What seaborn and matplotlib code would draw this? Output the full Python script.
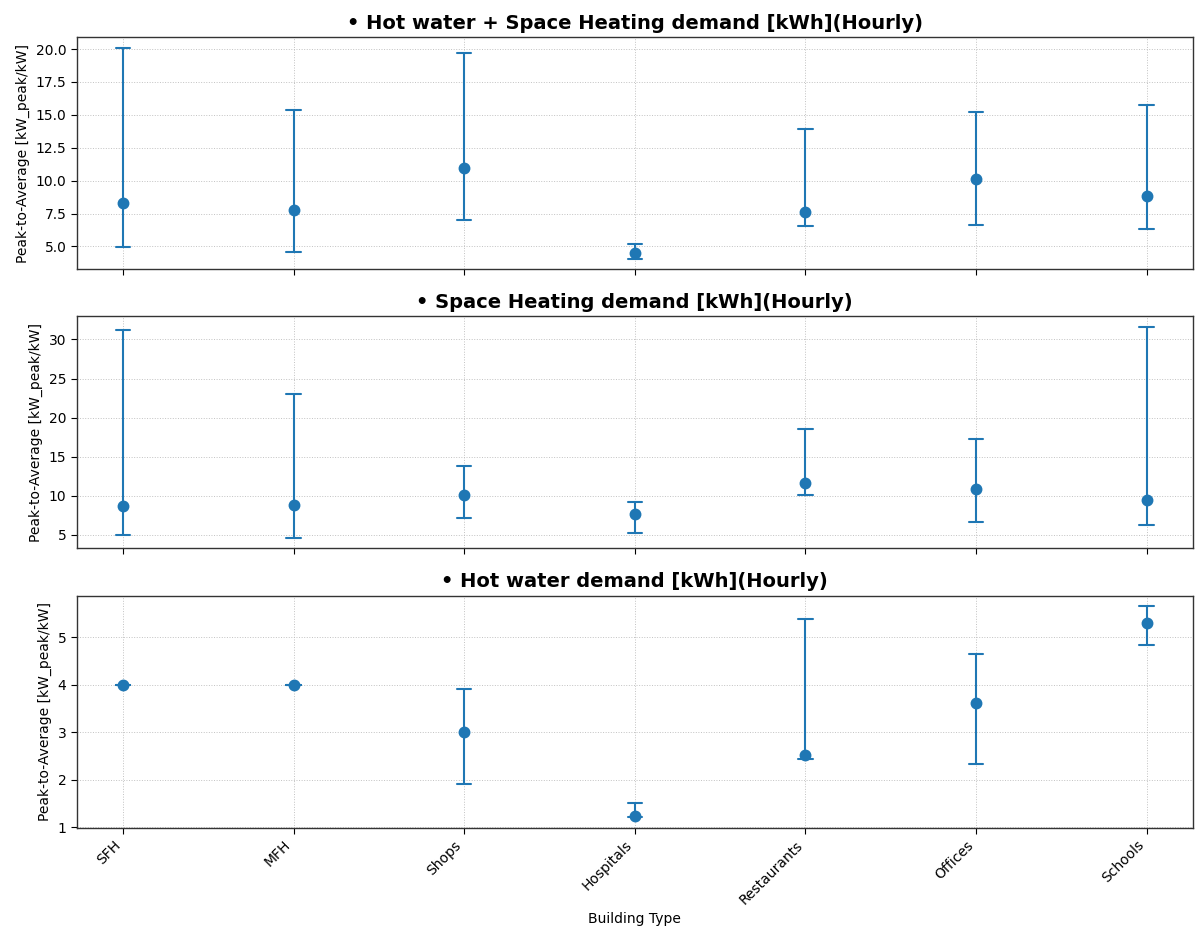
import pandas as pd
import matplotlib
matplotlib.use("Agg")
import matplotlib.pyplot as plt
import seaborn as sns

buildings = ["SFH", "MFH", "Shops", "Hospitals", "Restaurants", "Offices", "Schools"]

titles = [
    "• Hot water + Space Heating demand [kWh](Hourly)",
    "• Space Heating demand [kWh](Hourly)",
    "• Hot water demand [kWh](Hourly)",
]

# point (central value), lower and upper whisker per building type
combined_mid = [8.31, 7.80, 11.00, 4.49, 7.65, 10.15, 8.86]
combined_low = [4.95, 4.57, 7.05, 4.07, 6.54, 6.64, 6.31]
combined_high = [20.10, 15.38, 19.72, 5.20, 13.89, 15.25, 15.78]

heating_mid = [8.75, 8.87, 10.14, 7.64, 11.66, 10.86, 9.50]
heating_low = [5.00, 4.60, 7.10, 5.28, 10.14, 6.63, 6.30]
heating_high = [31.22, 23.07, 13.81, 9.16, 18.59, 17.20, 31.60]

water_mid = [4.00, 4.00, 3.00, 1.24, 2.53, 3.61, 5.31]
water_low = [4.00, 4.00, 1.91, 1.21, 2.43, 2.33, 4.84]
water_high = [4.00, 4.00, 3.92, 1.50, 5.38, 4.65, 5.66]


def build_frame(low, mid, high):
    rows = []
    for b, lo, m, hi in zip(buildings, low, mid, high):
        for v in (lo, m, hi):
            rows.append({"Building Type": b, "value": v})
    return pd.DataFrame(rows)


panels = [
    build_frame(combined_low, combined_mid, combined_high),
    build_frame(heating_low, heating_mid, heating_high),
    build_frame(water_low, water_mid, water_high),
]

sns.set_style("white")
plt.rcParams["font.family"] = ["DejaVu Sans"]
plt.rcParams["text.color"] = "black"
plt.rcParams["axes.labelcolor"] = "black"
plt.rcParams["xtick.color"] = "black"
plt.rcParams["ytick.color"] = "black"

fig, axes = plt.subplots(3, 1, figsize=(11.95, 9.3), dpi=100, sharex=True)

for ax, df, title in zip(axes, panels, titles):
    sns.pointplot(
        data=df, x="Building Type", y="value", order=buildings,
        estimator="median", errorbar=lambda v: (v.min(), v.max()),
        linestyle="none", marker="o", markersize=6.5,
        capsize=0.085, err_kws={"linewidth": 1.5},
        color="#1f77b4", ax=ax,
    )
    ax.set_title(title, fontsize=14, fontweight="bold", color="black")
    ax.set_ylabel("Peak-to-Average [kW_peak/kW]", fontsize=10)
    ax.set_xlabel("")
    ax.set_xlim(-0.27, len(buildings) - 1 + 0.27)
    ax.grid(True, linestyle=":", linewidth=0.7, color="#bbbbbb", alpha=0.9)
    ax.tick_params(axis="both", labelsize=10, length=4, bottom=True, left=True,
                   colors="black")
    for s in ax.spines.values():
        s.set_color("#333333")
        s.set_linewidth(1.0)

axes[-1].set_xlabel("Building Type", fontsize=10)
plt.setp(axes[-1].get_xticklabels(), rotation=45, ha="right")

plt.subplots_adjust(left=0.0644, right=0.998, bottom=0.110, top=0.960, hspace=0.203)
plt.savefig("out.png", dpi=100)
